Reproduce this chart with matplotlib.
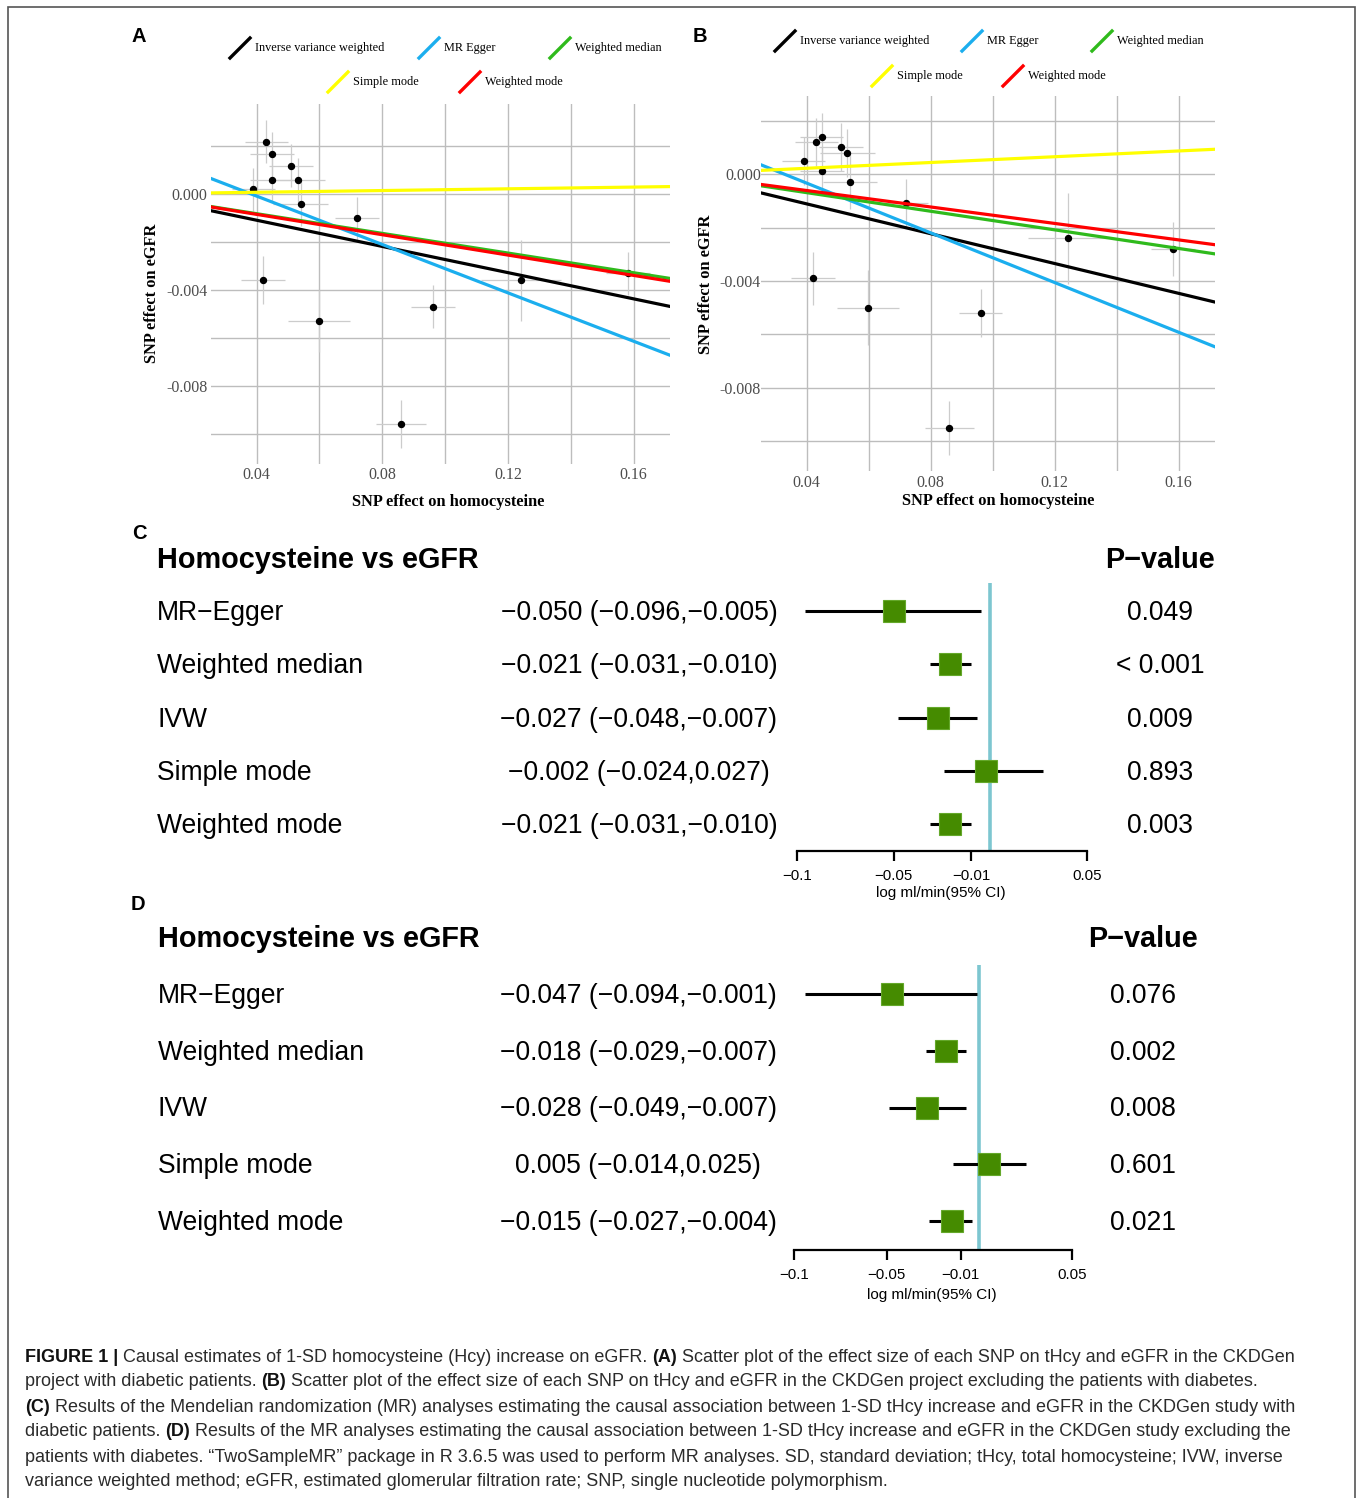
import matplotlib
matplotlib.use("Agg")
import matplotlib.pyplot as plt
import matplotlib.transforms as mtransforms
from matplotlib import font_manager
from matplotlib.lines import Line2D
from matplotlib.patches import Rectangle

W, H = 1357, 1498

# ---------------- data ----------------
methods = ["Inverse variance weighted", "MR Egger", "Weighted median",
           "Simple mode", "Weighted mode"]
colors = ["black", "#1BAEEE", "#2FBA1C", "#FFFF00", "#FF0000"]

# SNP effects on homocysteine (same SNPs in A and B)
snp_x = [0.0390, 0.0420, 0.0431, 0.0449, 0.0449, 0.0511, 0.0531,
         0.0540, 0.0599, 0.0720, 0.0860, 0.0961, 0.1242, 0.1582]
snp_x_se = [0.0069, 0.0070, 0.0069, 0.0069, 0.0070, 0.0070, 0.0088,
            0.0088, 0.0100, 0.0070, 0.0080, 0.0070, 0.0128, 0.0070]

# panel A: with diabetic patients
egfr_a = [0.00019, -0.00360, 0.00218, 0.00168, 0.00058, 0.00118, 0.00058,
          -0.00042, -0.00529, -0.00101, -0.00958, -0.00469, -0.00360, -0.00330]
egfr_a_se = [0.0009, 0.0010, 0.0009, 0.0009, 0.0009, 0.0009, 0.0009,
             0.0009, 0.0013, 0.0009, 0.0010, 0.0009, 0.0017, 0.0009]
slope_a = [-0.0273, -0.0504, -0.0205, 0.0018, -0.0212]
intercept_a = [0.0, 0.00193, 0.0, 0.0, 0.0]

# panel B: excluding diabetic patients
egfr_b = [0.0005, -0.0039, 0.0012, 0.0014, 0.0001, 0.0010, 0.0008,
          -0.0003, -0.0050, -0.0011, -0.0095, -0.0052, -0.0024, -0.0028]
egfr_b_se = [0.0009, 0.0010, 0.0009, 0.0009, 0.0009, 0.0009, 0.0009,
             0.0010, 0.0014, 0.0009, 0.0010, 0.0009, 0.0017, 0.0010]
slope_b = [-0.0279, -0.0465, -0.0174, 0.0054, -0.0154]
intercept_b = [0.0, 0.00152, 0.0, 0.0, 0.0]

# forest plots
forest_methods = ["MR\u2212Egger", "Weighted median", "IVW", "Simple mode", "Weighted mode"]
c_est = [-0.050, -0.021, -0.027, -0.002, -0.021]
c_lo = [-0.096, -0.031, -0.048, -0.024, -0.031]
c_hi = [-0.005, -0.010, -0.007, 0.027, -0.010]
c_p = ["0.049", "< 0.001", "0.009", "0.893", "0.003"]

d_est = [-0.047, -0.018, -0.028, 0.005, -0.015]
d_lo = [-0.094, -0.029, -0.049, -0.014, -0.027]
d_hi = [-0.001, -0.007, -0.007, 0.025, -0.004]
d_p = ["0.076", "0.002", "0.008", "0.601", "0.021"]

forest_ticks = [-0.1, -0.05, -0.01, 0.05]
forest_ticklabels = ["\u22120.1", "\u22120.05", "\u22120.01", "0.05"]

caption = [
    [("FIGURE 1 | ", True), ("Causal estimates of 1-SD homocysteine (Hcy) increase on eGFR. ", False),
     ("(A)", True), (" Scatter plot of the effect size of each SNP on tHcy and eGFR in the CKDGen", False)],
    [("project with diabetic patients. ", False), ("(B)", True),
     (" Scatter plot of the effect size of each SNP on tHcy and eGFR in the CKDGen project excluding the patients with diabetes.", False)],
    [("(C)", True), (" Results of the Mendelian randomization (MR) analyses estimating the causal association between 1-SD tHcy increase and eGFR in the CKDGen study with", False)],
    [("diabetic patients. ", False), ("(D)", True),
     (" Results of the MR analyses estimating the causal association between 1-SD tHcy increase and eGFR in the CKDGen study excluding the", False)],
    [("patients with diabetes. \u201cTwoSampleMR\u201d package in R 3.6.5 was used to perform MR analyses. SD, standard deviation; tHcy, total homocysteine; IVW, inverse", False)],
    [("variance weighted method; eGFR, estimated glomerular filtration rate; SNP, single nucleotide polymorphism.", False)],
]

# ---------------- figure ----------------
fig = plt.figure(figsize=(W / 100, H / 100), dpi=100)
SERIF = "Liberation Serif"
SANS = "Liberation Sans"


def fx(x):
    return x / W


def fy(y):
    return 1 - y / H


def px_axes(l, t, r, b):
    return fig.add_axes([l / W, 1 - b / H, (r - l) / W, (b - t) / H])


fig.add_artist(Rectangle((fx(8), -0.02), fx(1355) - fx(8), fy(7) + 0.02,
                         transform=fig.transFigure, fill=False,
                         ec="#555555", lw=1.2))


def scatter_panel(box, xlim, ylim, egfr, egfr_se, slopes, intercepts, ypad, xpad):
    ax = px_axes(*box)
    ax.errorbar(snp_x, egfr, xerr=snp_x_se, yerr=egfr_se, fmt="none",
                ecolor="#CCCCCC", elinewidth=0.9, capsize=0, zorder=2)
    ax.plot(snp_x, egfr, "o", color="black", ms=4.3, zorder=3)
    for i in [0, 1, 3, 2, 4]:
        ax.axline((0, intercepts[i]), slope=slopes[i], color=colors[i],
                  lw=2.3, zorder=4)
    ax.set_xlim(xlim)
    ax.set_ylim(ylim)
    ax.set_xticks([0.04, 0.08, 0.12, 0.16])
    ax.set_xticklabels(["0.04", "0.08", "0.12", "0.16"])
    ax.set_xticks([0.06, 0.10, 0.14], minor=True)
    ax.set_yticks([-0.008, -0.004, 0.0])
    ax.set_yticklabels(["-0.008", "-0.004", "0.000"])
    ax.set_yticks([-0.010, -0.006, -0.002, 0.002], minor=True)
    ax.grid(True, which="both", color="#BDBDBD", lw=1.0, zorder=0)
    ax.set_axisbelow(True)
    for s in ax.spines.values():
        s.set_visible(False)
    ax.tick_params(which="both", length=0)
    ax.tick_params(axis="y", pad=ypad)
    ax.tick_params(axis="x", pad=xpad)
    for lab in ax.get_xticklabels() + ax.get_yticklabels():
        lab.set_fontfamily(SERIF)
        lab.set_fontsize(11.5)
        lab.set_color("#4D4D4D")
    return ax


def legend(entries):
    for i, kx, ky in entries:
        fig.add_artist(Line2D([fx(kx), fx(kx + 20)], [fy(ky + 10), fy(ky - 10)],
                              color=colors[i], lw=2.4, transform=fig.transFigure))
        fig.text(fx(kx + 25), fy(ky), methods[i], fontsize=8.8, family=SERIF,
                 va="center", ha="left")


# ----- panel A -----
scatter_panel((211, 104, 670, 464), (0.0255, 0.1716), (-0.01125, 0.00375),
              egfr_a, egfr_a_se, slope_a, intercept_a, ypad=2.5, xpad=2)
fig.text(fx(152), fy(293), "SNP effect on eGFR", rotation=90, family=SERIF,
         fontweight="bold", fontsize=11.8, ha="center", va="center")
fig.text(fx(448), fy(502), "SNP effect on homocysteine", family=SERIF,
         fontweight="bold", fontsize=11.8, ha="center", va="center")
legend([(0, 230, 48), (1, 419, 48), (2, 550, 48), (3, 328, 82), (4, 460, 82)])
fig.text(fx(139), fy(36), "A", family=SANS, fontweight="bold", fontsize=14.5,
         ha="center", va="center")

# ----- panel B -----
scatter_panel((761, 96, 1215, 471), (0.02526, 0.1717), (-0.01111, 0.00292),
              egfr_b, egfr_b_se, slope_b, intercept_b, ypad=0, xpad=3)
fig.text(fx(706), fy(284), "SNP effect on eGFR", rotation=90, family=SERIF,
         fontweight="bold", fontsize=11.8, ha="center", va="center")
fig.text(fx(998), fy(501), "SNP effect on homocysteine", family=SERIF,
         fontweight="bold", fontsize=11.8, ha="center", va="center")
legend([(0, 775, 41), (1, 962, 41), (2, 1092, 41), (3, 872, 76), (4, 1003, 76)])
fig.text(fx(700), fy(36), "B", family=SANS, fontweight="bold", fontsize=14.5,
         ha="center", va="center")


def fmt(v):
    return ("%.3f" % v).replace("-", "\u2212")


def forest_panel(x_lo, x_hi, top, bottom, row1, row5, est, lo, hi, pvals,
                 label_x, est_x, p_x, xlab_pos, letter_pos, letter):
    sp = (row5 - row1) / 4.0
    ax = px_axes(x_lo, top, x_hi, bottom)
    ypos = [5, 4, 3, 2, 1]
    ax.set_xlim(-0.1, 0.05)
    ax.set_ylim(5 - (bottom - row1) / sp, 5 + (row1 - top) / sp)
    ax.axvline(0, color="#7DC6D0", lw=2.6, zorder=1)
    ax.hlines(ypos, lo, hi, color="black", lw=2.2, zorder=2)
    ax.plot(est, ypos, "s", ms=16.5, color="#458B00", mec="#64A82A",
            mew=0.8, zorder=3)
    for s in ["top", "left", "right"]:
        ax.spines[s].set_visible(False)
    ax.spines["bottom"].set_linewidth(1.6)
    ax.set_yticks([])
    ax.set_xticks(forest_ticks)
    ax.set_xticklabels(forest_ticklabels, family=SANS, fontsize=10.8)
    ax.tick_params(axis="x", length=7, width=1.6, pad=6)
    ax.patch.set_alpha(0)

    off = 2.0 / sp  # small downward nudge so text centres sit on the rows
    trans = mtransforms.blended_transform_factory(fig.transFigure, ax.transData)
    ax.text(fx(label_x), 6 - off, "Homocysteine vs eGFR", transform=trans,
            family=SANS, fontweight="bold", fontsize=20.8, ha="left", va="center")
    ax.text(fx(p_x), 6 - off, "P\u2212value", transform=trans, family=SANS,
            fontweight="bold", fontsize=20.8, ha="center", va="center")
    for k in range(5):
        ax.text(fx(label_x), ypos[k] - off, forest_methods[k], transform=trans,
                family=SANS, fontsize=19.1, ha="left", va="center")
        ax.text(fx(est_x), ypos[k] - off,
                "%s (%s,%s)" % (fmt(est[k]), fmt(lo[k]), fmt(hi[k])),
                transform=trans, family=SANS, fontsize=19.1, ha="center", va="center")
        ax.text(fx(p_x), ypos[k] - off, pvals[k], transform=trans, family=SANS,
                fontsize=19.1, ha="center", va="center")
    fig.text(fx(xlab_pos[0]), fy(xlab_pos[1]), "log ml/min(95% CI)", family=SANS,
             fontsize=11.0, ha="center", va="center")
    fig.text(fx(letter_pos[0]), fy(letter_pos[1]), letter, family=SANS,
             fontweight="bold", fontsize=14.5, ha="center", va="center")


forest_panel(797, 1087, 583, 851, 611, 824, c_est, c_lo, c_hi, c_p,
             157, 639, 1160, (941, 893), (139, 533), "C")
forest_panel(794, 1072, 965, 1250, 994, 1221, d_est, d_lo, d_hi, d_p,
             158, 638, 1143, (932, 1295), (138, 905), "D")

# ----- caption -----
names = {f.name for f in font_manager.fontManager.ttflist}
cap_font = "Liberation Sans Narrow" if "Liberation Sans Narrow" in names else SANS
renderer = fig.canvas.get_renderer()


def text_w(s, bold, size):
    t = fig.text(0, 0, s, fontsize=size, family=cap_font,
                 fontweight="bold" if bold else "normal")
    w = t.get_window_extent(renderer).width
    t.remove()
    return w


def advance(s, bold, size):
    return text_w("|" + s + "|", bold, size) - text_w("||", bold, size)


ref = 14.0
total = sum(advance(s, b, ref) for s, b in caption[0])
cap_size = ref * 1272.0 / total

for li, segs in enumerate(caption):
    x = 25.0
    y = 1357 + 25 * li
    for s, b in segs:
        fig.text(fx(x), fy(y), s, fontsize=cap_size, family=cap_font,
                 fontweight="bold" if b else "normal",
                 color="#111111" if b else "#2B2B2B", ha="left", va="center")
        x += advance(s, b, cap_size)

fig.savefig("out.png", dpi=100)
